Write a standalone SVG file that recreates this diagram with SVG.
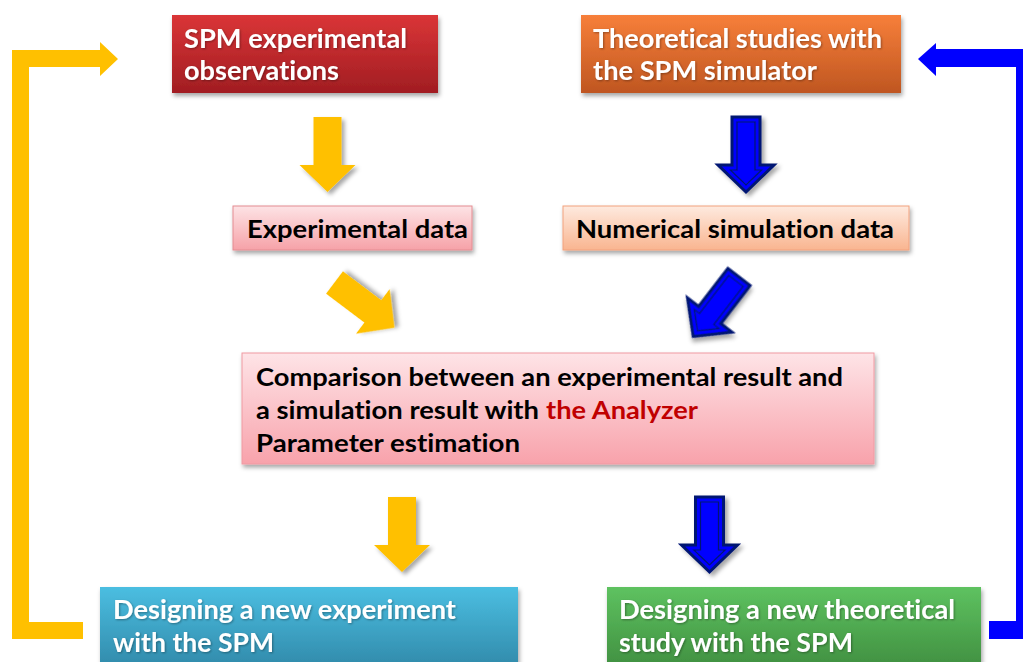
<svg xmlns="http://www.w3.org/2000/svg" width="1023" height="662" viewBox="0 0 1023 662">
  <style>
    .lbl { font-family: "Lato", "Open Sans", "Liberation Sans", sans-serif; font-weight: 700; font-variant-ligatures: none; font-feature-settings: "liga" 0, "clig" 0; }
    .white { fill: #ffffff; filter: url(#txtShadow); }
    .dark { fill: #000000; }
    .accent { fill: #c00000; }
    .box { filter: url(#boxShadow); }
  </style>
  <defs>
    <linearGradient id="gRed" x1="0" y1="0" x2="0" y2="1">
      <stop offset="0" stop-color="#da3537"/>
      <stop offset="1" stop-color="#a11d22"/>
    </linearGradient>
    <linearGradient id="gOrange" x1="0" y1="0" x2="0" y2="1">
      <stop offset="0" stop-color="#f77f3a"/>
      <stop offset="1" stop-color="#bf5621"/>
    </linearGradient>
    <linearGradient id="gPink" x1="0" y1="0" x2="0" y2="1">
      <stop offset="0" stop-color="#fde3e5"/>
      <stop offset="1" stop-color="#f6a2a8"/>
    </linearGradient>
    <linearGradient id="gPeach" x1="0" y1="0" x2="0" y2="1">
      <stop offset="0" stop-color="#feeadf"/>
      <stop offset="1" stop-color="#f9b590"/>
    </linearGradient>
    <linearGradient id="gRose" x1="0" y1="0" x2="0" y2="1">
      <stop offset="0" stop-color="#fee4e7"/>
      <stop offset="1" stop-color="#f8a2ab"/>
    </linearGradient>
    <linearGradient id="gCyan" x1="0" y1="0" x2="0" y2="1">
      <stop offset="0" stop-color="#4bbee1"/>
      <stop offset="1" stop-color="#2e84a4"/>
    </linearGradient>
    <linearGradient id="gGreen" x1="0" y1="0" x2="0" y2="1">
      <stop offset="0" stop-color="#5ec260"/>
      <stop offset="1" stop-color="#3d8a3d"/>
    </linearGradient>
    <filter id="boxShadow" x="-10%" y="-20%" width="120%" height="150%">
      <feDropShadow dx="1.5" dy="3" stdDeviation="2" flood-color="#000" flood-opacity="0.35"/>
    </filter>
    <filter id="arrowShadow" x="-30%" y="-30%" width="160%" height="160%">
      <feDropShadow dx="3" dy="3" stdDeviation="2" flood-color="#000" flood-opacity="0.35"/>
    </filter>
    <filter id="txtShadow" x="-5%" y="-20%" width="110%" height="140%">
      <feDropShadow dx="1" dy="1" stdDeviation="0.8" flood-color="#000" flood-opacity="0.35"/>
    </filter>
    <!-- block arrow pointing down, origin at the middle of the tail -->
    <g id="yellowArrow" filter="url(#arrowShadow)">
      <polygon points="-14,0 14,0 14,48 28,48 0,75 -28,48 -14,48" fill="#ffc000"/>
    </g>
    <g id="blueArrow" filter="url(#arrowShadow)">
      <polygon points="-14,0 14,0 14,48 28,48 0,75 -28,48 -14,48" fill="#0000ff" stroke="#001673" stroke-width="3" stroke-linejoin="miter"/>
      <polygon points="-9,5 9,5 9,53 15.6,53 0,68 -15.6,53 -9,53" fill="none" stroke="#001673" stroke-width="1.2"/>
    </g>
  </defs>

  <rect width="1023" height="662" fill="#ffffff"/>

  <!-- connectors -->
  <g id="connectors">
    <!-- feedback loops -->
    <path d="M12,50 L100,50 L100,42 L118,59 L100,76 L100,67 L29,67 L29,622 L83,622 L83,639 L12,639 Z" fill="#ffc000"/>
    <path d="M1035,49 L936,49 L936,43 L918,59 L936,76 L936,67 L1016,67 L1016,621 L989,621 L989,639 L1035,639 Z" fill="#0000ff"/>
    <!-- flow arrows -->
    <use href="#yellowArrow" transform="translate(327.5,117)"/>
    <use href="#blueArrow" transform="translate(746,117)"/>
    <use href="#yellowArrow" transform="translate(334.5,282.5) rotate(-53)"/>
    <use href="#blueArrow" transform="translate(739,277) rotate(37.6)"/>
    <use href="#yellowArrow" transform="translate(402,497)"/>
    <use href="#blueArrow" transform="translate(709.5,497)"/>
  </g>

  <g id="spm-observations">
    <rect class="box" x="172" y="15" width="266" height="78" fill="url(#gRed)"/>
    <text class="lbl white" x="184" y="48" font-size="26" textLength="223" lengthAdjust="spacingAndGlyphs">SPM experimental</text>
    <text class="lbl white" x="184" y="80" font-size="26" textLength="155" lengthAdjust="spacingAndGlyphs">observations</text>
  </g>

  <g id="theoretical-studies">
    <rect class="box" x="581" y="15" width="320" height="78" fill="url(#gOrange)"/>
    <text class="lbl white" x="593" y="48" font-size="26" textLength="289" lengthAdjust="spacingAndGlyphs">Theoretical studies with</text>
    <text class="lbl white" x="593" y="80" font-size="26" textLength="224" lengthAdjust="spacingAndGlyphs">the SPM simulator</text>
  </g>

  <g id="experimental-data">
    <rect class="box" x="233" y="206" width="239" height="44" fill="url(#gPink)" stroke="#e48c92" stroke-width="1"/>
    <text class="lbl dark" x="247" y="238" font-size="24" textLength="221" lengthAdjust="spacingAndGlyphs">Experimental data</text>
  </g>

  <g id="simulation-data">
    <rect class="box" x="563" y="206" width="346" height="44" fill="url(#gPeach)" stroke="#f2a27e" stroke-width="1"/>
    <text class="lbl dark" x="576" y="238" font-size="24" textLength="318" lengthAdjust="spacingAndGlyphs">Numerical simulation data</text>
  </g>

  <g id="comparison">
    <rect class="box" x="242" y="353" width="632" height="111" fill="url(#gRose)" stroke="#f09aa2" stroke-width="1"/>
    <text class="lbl dark" x="256" y="386" font-size="24" textLength="587" lengthAdjust="spacingAndGlyphs">Comparison between an experimental result and</text>
    <text class="lbl dark" x="256" y="419" font-size="24" textLength="283" lengthAdjust="spacingAndGlyphs">a simulation result with</text>
    <text class="lbl accent" x="546" y="419" font-size="24" textLength="152" lengthAdjust="spacingAndGlyphs">the Analyzer</text>
    <text class="lbl dark" x="256" y="452" font-size="24" textLength="264" lengthAdjust="spacingAndGlyphs">Parameter estimation</text>
  </g>

  <g id="new-experiment">
    <rect class="box" x="100" y="587" width="418" height="90" fill="url(#gCyan)"/>
    <text class="lbl white" x="113" y="619" font-size="26" textLength="343" lengthAdjust="spacingAndGlyphs">Designing a new experiment</text>
    <text class="lbl white" x="113" y="652" font-size="26" textLength="161" lengthAdjust="spacingAndGlyphs">with the SPM</text>
  </g>

  <g id="new-theoretical-study">
    <rect class="box" x="607" y="587" width="374" height="90" fill="url(#gGreen)"/>
    <text class="lbl white" x="619" y="619" font-size="26" textLength="336" lengthAdjust="spacingAndGlyphs">Designing a new theoretical</text>
    <text class="lbl white" x="619" y="652" font-size="26" textLength="234" lengthAdjust="spacingAndGlyphs">study with the SPM</text>
  </g>
</svg>
